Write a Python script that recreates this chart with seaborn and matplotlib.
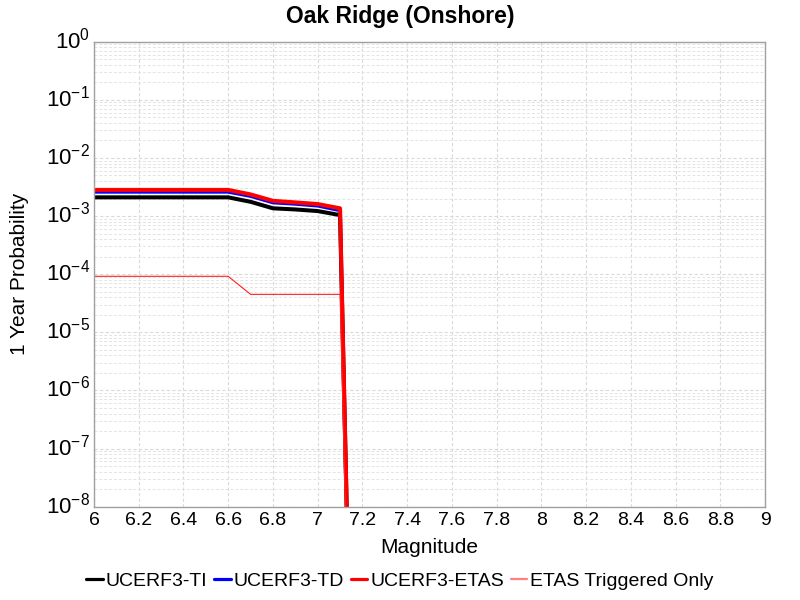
import numpy as np
import pandas as pd
import seaborn as sns
import matplotlib.pyplot as plt
import matplotlib.transforms as mtransforms
from matplotlib.lines import Line2D
from matplotlib.ticker import LogLocator, MultipleLocator, NullFormatter

# Magnitude bins and probabilities
magnitude = [6.0, 6.1, 6.2, 6.3, 6.4, 6.5, 6.6, 6.7, 6.8, 6.9, 7.0, 7.1, 7.2]
ucerf3_ti = [2.10e-3, 2.10e-3, 2.10e-3, 2.10e-3, 2.10e-3, 2.10e-3, 2.10e-3,
             1.76e-3, 1.36e-3, 1.30e-3, 1.22e-3, 1.04e-3, 1e-20]
ucerf3_td = [2.58e-3, 2.58e-3, 2.58e-3, 2.58e-3, 2.58e-3, 2.58e-3, 2.58e-3,
             2.18e-3, 1.69e-3, 1.60e-3, 1.49e-3, 1.24e-3, 1e-20]
ucerf3_etas = [2.82e-3, 2.82e-3, 2.82e-3, 2.82e-3, 2.82e-3, 2.82e-3, 2.82e-3,
               2.36e-3, 1.83e-3, 1.72e-3, 1.61e-3, 1.36e-3, 1e-20]
etas_triggered = [9.2e-5, 9.2e-5, 9.2e-5, 9.2e-5, 9.2e-5, 9.2e-5, 9.2e-5,
                  4.5e-5, 4.5e-5, 4.5e-5, 4.5e-5, 4.5e-5, 1e-20]

sns.set_style('white')
plt.rcParams['font.family'] = ['Liberation Sans', 'DejaVu Sans']
plt.rcParams['mathtext.fontset'] = 'custom'
plt.rcParams['mathtext.rm'] = 'Liberation Sans'
plt.rcParams['mathtext.it'] = 'Liberation Sans:italic'
plt.rcParams['mathtext.bf'] = 'Liberation Sans:bold'
for key in ['text.color', 'axes.labelcolor', 'xtick.color', 'ytick.color']:
    plt.rcParams[key] = 'black'

fig = plt.figure(figsize=(8, 6), dpi=100)
ax = fig.add_axes([0.1175, 0.1555, 0.8388, 0.775])

# name, values, line colour, line width, legend colour, legend width
series = [
    ('UCERF3-TI', ucerf3_ti, 'black', 2.9, 'black', 2.3),
    ('UCERF3-TD', ucerf3_td, 'blue', 2.2, 'blue', 2.3),
    ('UCERF3-ETAS', ucerf3_etas, 'red', 2.9, 'red', 2.3),
    ('ETAS Triggered Only', etas_triggered, '#ff2020', 0.8, '#ff8080', 1.6),
]
for name, vals, color, lw, _, _ in series:
    df = pd.DataFrame({'Magnitude': magnitude, 'prob': vals})
    sns.lineplot(data=df, x='Magnitude', y='prob', ax=ax, color=color,
                 linewidth=lw, estimator=None, sort=False, legend=False)

ax.set_yscale('log')
ax.set_xlim(6, 9)
ax.set_ylim(1e-8, 1)
ax.xaxis.set_major_locator(MultipleLocator(0.2))
ax.xaxis.set_major_formatter(plt.FuncFormatter(lambda v, p: f'{v:g}'))
ax.yaxis.set_major_locator(LogLocator(base=10, numticks=20))
ax.yaxis.set_minor_locator(LogLocator(base=10, subs=np.arange(2, 10), numticks=20))
ax.yaxis.set_minor_formatter(NullFormatter())

ax.grid(True, which='major', color='#dadada', linestyle=(0, (3, 2)), linewidth=0.8)
ax.grid(True, which='minor', axis='y', color='#e4e4e4', linestyle=(0, (3, 2)), linewidth=0.7)
for sp in ax.spines.values():
    sp.set_color('#a0a0a0')
    sp.set_linewidth(1)
ax.tick_params(axis='both', which='both', length=0)
ax.tick_params(axis='x', labelsize=14, pad=4)
ax.tick_params(axis='y', labelsize=16, pad=3)

offset = mtransforms.ScaledTranslation(0, 4 / 100, fig.dpi_scale_trans)
for lab in ax.get_yticklabels():
    lab.set_transform(lab.get_transform() + offset)

fig.suptitle('Oak Ridge (Onshore)', x=0.5, y=0.992, va='top',
             fontsize=16.5, fontweight='bold')
ax.set_xlabel('Magnitude', fontsize=15, labelpad=6)
ax.set_ylabel('1 Year Probability', fontsize=15, labelpad=12)

handles = [Line2D([], [], color=lc, linewidth=lw) for _, _, _, _, lc, lw in series]
labels = [s[0] for s in series]
fig.legend(handles, labels, loc='center', bbox_to_anchor=(0.5, 0.032), ncol=4,
           frameon=False, fontsize=14, handlelength=0.85, handletextpad=0.15,
           columnspacing=0.35, borderaxespad=0)

fig.savefig('out.png', dpi=100)
